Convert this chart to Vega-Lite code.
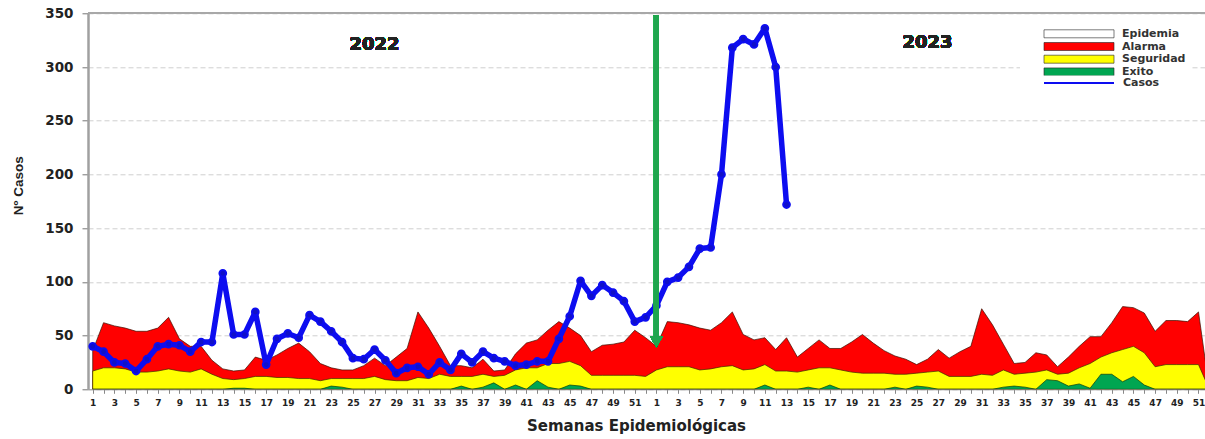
{
  "$schema": "https://vega.github.io/schema/vega-lite/v6.json",
  "width": 1117,
  "height": 376,
  "autosize": {"type": "none"},
  "padding": {"left": 88, "top": 13.3, "right": 0, "bottom": 49.7},
  "background": "white",
  "config": {
    "view": {"stroke": null},
    "font": "DejaVu Sans",
    "axisX": {
      "labelFont": "DejaVu Sans", "labelFontSize": 9, "labelFontWeight": "bold", "labelColor": "#222",
      "labelPadding": 5, "tickSize": 4, "tickColor": "#888", "domainColor": "#999", "domainWidth": 1,
      "grid": false, "labelOverlap": false, "labelFlush": false, "labelBound": false,
      "titleFont": "DejaVu Sans", "titleFontSize": 15, "titleFontWeight": "bold", "titleColor": "#222",
      "titleX": 548, "titleY": 36, "titleBaseline": "middle", "titleAnchor": "middle", "titleAlign": "center"
    },
    "axisY": {
      "labelFont": "DejaVu Sans", "labelFontSize": 13.5, "labelFontWeight": "bold", "labelColor": "#222",
      "labelPadding": 9, "tickSize": 6, "tickColor": "#777", "domainColor": "#a0a0a0", "domainWidth": 2.5,
      "grid": true, "gridColor": "#cfcfcf", "gridDash": [5, 3], "gridWidth": 1,
      "titleFont": "Liberation Sans", "titleFontSize": 13.5, "titleFontWeight": "bold", "titleColor": "#222",
      "titleX": -70, "titleY": 172, "titleBaseline": "middle", "titleAngle": -90, "titleAlign": "center"
    }
  },
  "data": {"values": [
    {"i":1,"alarma":36,"seguridad":17,"exito":0,"casos":40},
    {"i":2,"alarma":62,"seguridad":20,"exito":0,"casos":35},
    {"i":3,"alarma":59,"seguridad":20,"exito":0,"casos":25},
    {"i":4,"alarma":57,"seguridad":19,"exito":0,"casos":24},
    {"i":5,"alarma":54,"seguridad":16,"exito":0,"casos":17},
    {"i":6,"alarma":54,"seguridad":16,"exito":0,"casos":28},
    {"i":7,"alarma":57,"seguridad":17,"exito":0,"casos":40},
    {"i":8,"alarma":67,"seguridad":19,"exito":0,"casos":42},
    {"i":9,"alarma":47,"seguridad":17,"exito":0,"casos":41},
    {"i":10,"alarma":40,"seguridad":16,"exito":0,"casos":35},
    {"i":11,"alarma":40,"seguridad":19,"exito":0,"casos":44},
    {"i":12,"alarma":27,"seguridad":14,"exito":0,"casos":44},
    {"i":13,"alarma":19,"seguridad":10,"exito":0,"casos":108},
    {"i":14,"alarma":17,"seguridad":9,"exito":1,"casos":51},
    {"i":15,"alarma":18,"seguridad":10,"exito":1,"casos":51},
    {"i":16,"alarma":30,"seguridad":12,"exito":0,"casos":72},
    {"i":17,"alarma":27,"seguridad":12,"exito":0,"casos":23},
    {"i":18,"alarma":32,"seguridad":11,"exito":0,"casos":47},
    {"i":19,"alarma":38,"seguridad":11,"exito":0,"casos":52},
    {"i":20,"alarma":43,"seguridad":10,"exito":0,"casos":48},
    {"i":21,"alarma":35,"seguridad":10,"exito":0,"casos":69},
    {"i":22,"alarma":24,"seguridad":8,"exito":0,"casos":63},
    {"i":23,"alarma":20,"seguridad":10,"exito":3,"casos":54},
    {"i":24,"alarma":18,"seguridad":10,"exito":2,"casos":44},
    {"i":25,"alarma":18,"seguridad":10,"exito":0,"casos":29},
    {"i":26,"alarma":22,"seguridad":10,"exito":0,"casos":28},
    {"i":27,"alarma":29,"seguridad":12,"exito":0,"casos":37},
    {"i":28,"alarma":22,"seguridad":9,"exito":0,"casos":27},
    {"i":29,"alarma":30,"seguridad":8,"exito":0,"casos":15},
    {"i":30,"alarma":38,"seguridad":8,"exito":0,"casos":20},
    {"i":31,"alarma":72,"seguridad":11,"exito":0,"casos":21},
    {"i":32,"alarma":57,"seguridad":10,"exito":0,"casos":14},
    {"i":33,"alarma":40,"seguridad":14,"exito":0,"casos":25},
    {"i":34,"alarma":22,"seguridad":12,"exito":0,"casos":18},
    {"i":35,"alarma":22,"seguridad":12,"exito":3,"casos":33},
    {"i":36,"alarma":20,"seguridad":12,"exito":0,"casos":25},
    {"i":37,"alarma":28,"seguridad":14,"exito":2,"casos":35},
    {"i":38,"alarma":17,"seguridad":12,"exito":6,"casos":29},
    {"i":39,"alarma":18,"seguridad":13,"exito":0,"casos":26},
    {"i":40,"alarma":33,"seguridad":18,"exito":4,"casos":22},
    {"i":41,"alarma":43,"seguridad":20,"exito":0,"casos":23},
    {"i":42,"alarma":46,"seguridad":20,"exito":8,"casos":26},
    {"i":43,"alarma":55,"seguridad":24,"exito":2,"casos":26},
    {"i":44,"alarma":63,"seguridad":24,"exito":0,"casos":47},
    {"i":45,"alarma":57,"seguridad":26,"exito":4,"casos":68},
    {"i":46,"alarma":50,"seguridad":22,"exito":3,"casos":101},
    {"i":47,"alarma":35,"seguridad":13,"exito":0,"casos":87},
    {"i":48,"alarma":41,"seguridad":13,"exito":0,"casos":97},
    {"i":49,"alarma":42,"seguridad":13,"exito":0,"casos":90},
    {"i":50,"alarma":44,"seguridad":13,"exito":0,"casos":82},
    {"i":51,"alarma":55,"seguridad":13,"exito":0,"casos":63},
    {"i":52,"alarma":48,"seguridad":12,"exito":0,"casos":67},
    {"i":53,"alarma":40,"seguridad":18,"exito":0,"casos":78},
    {"i":54,"alarma":63,"seguridad":21,"exito":0,"casos":100},
    {"i":55,"alarma":62,"seguridad":21,"exito":0,"casos":104},
    {"i":56,"alarma":60,"seguridad":21,"exito":0,"casos":114},
    {"i":57,"alarma":57,"seguridad":18,"exito":0,"casos":131},
    {"i":58,"alarma":55,"seguridad":19,"exito":0,"casos":132},
    {"i":59,"alarma":62,"seguridad":21,"exito":0,"casos":200},
    {"i":60,"alarma":72,"seguridad":22,"exito":0,"casos":318},
    {"i":61,"alarma":51,"seguridad":18,"exito":0,"casos":326},
    {"i":62,"alarma":46,"seguridad":19,"exito":0,"casos":321},
    {"i":63,"alarma":48,"seguridad":23,"exito":4,"casos":336},
    {"i":64,"alarma":37,"seguridad":17,"exito":0,"casos":300},
    {"i":65,"alarma":48,"seguridad":17,"exito":0,"casos":172},
    {"i":66,"alarma":30,"seguridad":16,"exito":0},
    {"i":67,"alarma":38,"seguridad":18,"exito":2},
    {"i":68,"alarma":46,"seguridad":20,"exito":0},
    {"i":69,"alarma":38,"seguridad":20,"exito":4},
    {"i":70,"alarma":38,"seguridad":18,"exito":0},
    {"i":71,"alarma":44,"seguridad":16,"exito":0},
    {"i":72,"alarma":51,"seguridad":15,"exito":0},
    {"i":73,"alarma":43,"seguridad":15,"exito":0},
    {"i":74,"alarma":36,"seguridad":15,"exito":0},
    {"i":75,"alarma":31,"seguridad":14,"exito":2},
    {"i":76,"alarma":28,"seguridad":14,"exito":0},
    {"i":77,"alarma":23,"seguridad":15,"exito":3},
    {"i":78,"alarma":28,"seguridad":16,"exito":2},
    {"i":79,"alarma":37,"seguridad":17,"exito":0},
    {"i":80,"alarma":29,"seguridad":12,"exito":0},
    {"i":81,"alarma":35,"seguridad":12,"exito":0},
    {"i":82,"alarma":40,"seguridad":12,"exito":0},
    {"i":83,"alarma":75,"seguridad":14,"exito":0},
    {"i":84,"alarma":60,"seguridad":13,"exito":0},
    {"i":85,"alarma":42,"seguridad":18,"exito":2},
    {"i":86,"alarma":24,"seguridad":14,"exito":3},
    {"i":87,"alarma":25,"seguridad":15,"exito":2},
    {"i":88,"alarma":34,"seguridad":16,"exito":0},
    {"i":89,"alarma":32,"seguridad":18,"exito":9},
    {"i":90,"alarma":21,"seguridad":14,"exito":8},
    {"i":91,"alarma":30,"seguridad":15,"exito":3},
    {"i":92,"alarma":40,"seguridad":20,"exito":5},
    {"i":93,"alarma":49,"seguridad":24,"exito":1},
    {"i":94,"alarma":49,"seguridad":30,"exito":14},
    {"i":95,"alarma":62,"seguridad":34,"exito":14},
    {"i":96,"alarma":77,"seguridad":37,"exito":7},
    {"i":97,"alarma":76,"seguridad":40,"exito":12},
    {"i":98,"alarma":71,"seguridad":34,"exito":4},
    {"i":99,"alarma":54,"seguridad":21,"exito":0},
    {"i":100,"alarma":64,"seguridad":23,"exito":0},
    {"i":101,"alarma":64,"seguridad":23,"exito":0},
    {"i":102,"alarma":63,"seguridad":23,"exito":0},
    {"i":103,"alarma":72,"seguridad":23,"exito":0},
    {"i":104,"alarma":0,"seguridad":0,"exito":0}
  ]},
  "layer": [
    {
      "mark": {"type": "area", "stroke": "#3a1000", "strokeWidth": 0.7, "clip": true, "opacity": 1},
      "encoding": {
        "x": {"field": "i", "type": "quantitative", "scale": {"domain": [0.566, 103.6], "nice": false, "zero": false},
          "axis": {
            "title": "Semanas Epidemiológicas",
            "labelOverlap": false,
            "tickCount": 300,
            "values": [1,2,3,4,5,6,7,8,9,10,11,12,13,14,15,16,17,18,19,20,21,22,23,24,25,26,27,28,29,30,31,32,33,34,35,36,37,38,39,40,41,42,43,44,45,46,47,48,49,50,51,52,53,54,55,56,57,58,59,60,61,62,63,64,65,66,67,68,69,70,71,72,73,74,75,76,77,78,79,80,81,82,83,84,85,86,87,88,89,90,91,92,93,94,95,96,97,98,99,100,101,102,103],
            "labelExpr": "datum.value % 2 == 1 ? (datum.value > 52 ? '' + (datum.value - 52) : '' + datum.value) : ''"
          }},
        "y": {"field": "alarma", "type": "quantitative", "scale": {"domain": [0, 350], "nice": false},
          "axis": {"title": "Nº Casos", "values": [0, 50, 100, 150, 200, 250, 300, 350]}},
        "fill": {"datum": "Alarma", "type": "nominal",
          "scale": {"domain": ["Epidemia", "Alarma", "Seguridad", "Exito"], "range": ["#ffffff", "#ff0000", "#ffff00", "#00a651"]},
          "legend": {
            "title": null, "orient": "none", "legendX": 932, "legendY": 10, "direction": "vertical",
            "padding": 5, "rowPadding": 0.7, "symbolSize": 16, "symbolOffset": 48.5, "labelOffset": 37.5,
            "symbolType": "M-17.5,-2L17.5,-2L17.5,2L-17.5,2Z",
            "symbolStrokeColor": "#222", "symbolStrokeWidth": 0.6,
            "labelFont": "DejaVu Sans", "labelFontSize": 11, "labelFontWeight": "bold", "labelColor": "#333",
            "fillColor": "white"
          }}
      }
    },
    {
      "mark": {"type": "area", "stroke": "#3a2a00", "strokeWidth": 0.7, "clip": true, "opacity": 1},
      "encoding": {
        "x": {"field": "i", "type": "quantitative", "scale": {"domain": [0.566, 103.6], "nice": false, "zero": false}, "axis": {"title": "Semanas Epidemiológicas"}},
        "y": {"field": "seguridad", "type": "quantitative", "scale": {"domain": [0, 350], "nice": false}, "axis": {"title": "Nº Casos"}},
        "fill": {"datum": "Seguridad", "type": "nominal",
          "scale": {"domain": ["Epidemia", "Alarma", "Seguridad", "Exito"], "range": ["#ffffff", "#ff0000", "#ffff00", "#00a651"]}, "legend": null}
      }
    },
    {
      "mark": {"type": "area", "stroke": "#0a3a10", "strokeWidth": 0.7, "clip": true, "opacity": 1},
      "encoding": {
        "x": {"field": "i", "type": "quantitative", "scale": {"domain": [0.566, 103.6], "nice": false, "zero": false}, "axis": {"title": "Semanas Epidemiológicas"}},
        "y": {"field": "exito", "type": "quantitative", "scale": {"domain": [0, 350], "nice": false}, "axis": {"title": "Nº Casos"}},
        "fill": {"datum": "Exito", "type": "nominal",
          "scale": {"domain": ["Epidemia", "Alarma", "Seguridad", "Exito"], "range": ["#ffffff", "#ff0000", "#ffff00", "#00a651"]}, "legend": null}
      }
    },
    {
      "mark": {"type": "rule", "color": "#a8a8a8", "strokeWidth": 1.5},
      "encoding": {
        "y": {"datum": 350, "type": "quantitative", "scale": {"domain": [0, 350], "nice": false}, "axis": {"title": "Nº Casos"}}
      }
    },
    {
      "transform": [{"filter": "isValid(datum.casos)"}],
      "mark": {"type": "line", "strokeWidth": 5.5, "clip": true, "strokeJoin": "round",
        "point": {"filled": true, "size": 45, "fill": "#1010c8", "opacity": 1}},
      "encoding": {
        "x": {"field": "i", "type": "quantitative", "scale": {"domain": [0.566, 103.6], "nice": false, "zero": false}, "axis": {"title": "Semanas Epidemiológicas"}},
        "y": {"field": "casos", "type": "quantitative", "scale": {"domain": [0, 350], "nice": false}, "axis": {"title": "Nº Casos"}},
        "stroke": {"datum": "Casos", "type": "nominal",
          "scale": {"domain": ["Casos"], "range": ["#0d0df0"]},
          "legend": {
            "title": null, "orient": "none", "legendX": 932, "legendY": 62.2, "direction": "vertical",
            "padding": 2, "symbolSize": 16, "symbolOffset": 51.5, "labelOffset": 38.5,
            "symbolType": "M-17.5,0L17.5,0",
            "symbolStrokeColor": "#1f1f80", "symbolStrokeWidth": 2,
            "labelFont": "DejaVu Sans", "labelFontSize": 11, "labelFontWeight": "bold", "labelColor": "#333",
            "fillColor": "white"
          }}
      }
    },
    {
      "mark": {"type": "rule", "color": "#1fa64e", "strokeWidth": 5},
      "encoding": {
        "x": {"datum": 53, "type": "quantitative", "scale": {"domain": [0.566, 103.6], "nice": false, "zero": false}, "axis": {"title": "Semanas Epidemiológicas"}},
        "y": {"datum": 348, "type": "quantitative", "scale": {"domain": [0, 350], "nice": false}, "axis": {"title": "Nº Casos"}},
        "y2": {"datum": 48}
      }
    },
    {
      "mark": {"type": "point", "shape": "triangle-down", "filled": true, "color": "#1fa64e", "size": 150, "opacity": 1},
      "encoding": {
        "x": {"datum": 53, "type": "quantitative", "scale": {"domain": [0.566, 103.6], "nice": false, "zero": false}, "axis": {"title": "Semanas Epidemiológicas"}},
        "y": {"datum": 44, "type": "quantitative", "scale": {"domain": [0, 350], "nice": false}, "axis": {"title": "Nº Casos"}}
      }
    },
    {
      "mark": {"type": "text", "font": "DejaVu Sans", "fontSize": 18, "fontWeight": "bold", "color": "#222", "align": "center", "baseline": "middle"},
      "encoding": {
        "x": {"datum": 27, "type": "quantitative", "scale": {"domain": [0.566, 103.6], "nice": false, "zero": false}, "axis": {"title": "Semanas Epidemiológicas"}},
        "y": {"datum": 320.5, "type": "quantitative", "scale": {"domain": [0, 350], "nice": false}, "axis": {"title": "Nº Casos"}},
        "text": {"value": "2022"}
      }
    },
    {
      "mark": {"type": "text", "font": "DejaVu Sans", "fontSize": 18, "fontWeight": "bold", "color": "#222", "align": "center", "baseline": "middle"},
      "encoding": {
        "x": {"datum": 78, "type": "quantitative", "scale": {"domain": [0.566, 103.6], "nice": false, "zero": false}, "axis": {"title": "Semanas Epidemiológicas"}},
        "y": {"datum": 322, "type": "quantitative", "scale": {"domain": [0, 350], "nice": false}, "axis": {"title": "Nº Casos"}},
        "text": {"value": "2023"}
      }
    }
  ]
}
